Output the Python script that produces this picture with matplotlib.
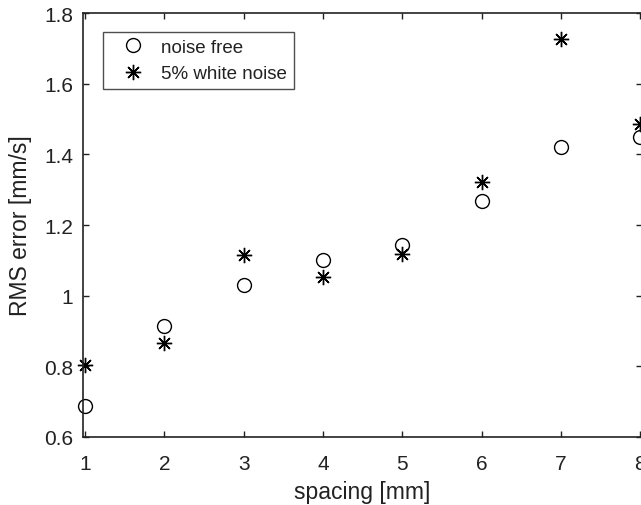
import matplotlib
matplotlib.use('Agg')
import matplotlib.pyplot as plt

# spacing values and RMS errors
spacing = [1, 2, 3, 4, 5, 6, 7, 8]
rms_noise_free = [0.688, 0.915, 1.030, 1.101, 1.142, 1.267, 1.422, 1.449]
rms_white_noise = [0.803, 0.866, 1.114, 1.052, 1.118, 1.323, 1.727, 1.485]

xticks = [1, 2, 3, 4, 5, 6, 7, 8]
yticks = [0.6, 0.8, 1.0, 1.2, 1.4, 1.6, 1.8]
yticklabels = ['0.6', '0.8', '1', '1.2', '1.4', '1.6', '1.8']

plt.rcParams['font.family'] = ['Liberation Sans', 'DejaVu Sans']

fig = plt.figure(figsize=(6.41, 5.06), dpi=100)
fig.patch.set_facecolor('white')
ax = fig.add_axes([83 / 641, 68 / 506, 559 / 641, 424 / 506])

asterisk = (8, 2, 0)
ax.plot(spacing, rms_noise_free, linestyle='none', marker='o', ms=10,
        mfc='none', mec='black', mew=1.0, clip_on=False, label='noise free')
ax.plot(spacing, rms_white_noise, linestyle='none', marker=asterisk, ms=11,
        mec='black', mew=1.0, clip_on=False, label='5% white noise')

ax.set_xlim(0.975, 8.02)
ax.set_ylim(0.6, 1.8)
ax.set_xticks(xticks)
ax.set_yticks(yticks)
ax.set_yticklabels(yticklabels)
ax.tick_params(direction='in', length=4, width=1, top=True, right=True,
               labelsize=15, color='#222222', labelcolor='#222222')
ax.tick_params(axis='x', pad=12)
ax.tick_params(axis='y', pad=7)
for s in ax.spines.values():
    s.set_linewidth(1.2)
    s.set_color('#222222')

ax.set_xlabel('spacing [mm]', fontsize=16.5, labelpad=5, color='#222222')
ax.set_ylabel('RMS error [mm/s]', fontsize=16.5, labelpad=9, color='#222222')

leg = ax.legend(loc='upper left', bbox_to_anchor=(20 / 559, 1 - 19 / 424),
                borderaxespad=0, fontsize=13.5,
                frameon=True, fancybox=False, edgecolor='#222222',
                handletextpad=0.25, borderpad=0.35, labelspacing=0.5,
                handlelength=2.5)
leg.get_frame().set_linewidth(1.0)
for t in leg.get_texts():
    t.set_color('#222222')

plt.savefig('out.png', dpi=100, facecolor='white')
